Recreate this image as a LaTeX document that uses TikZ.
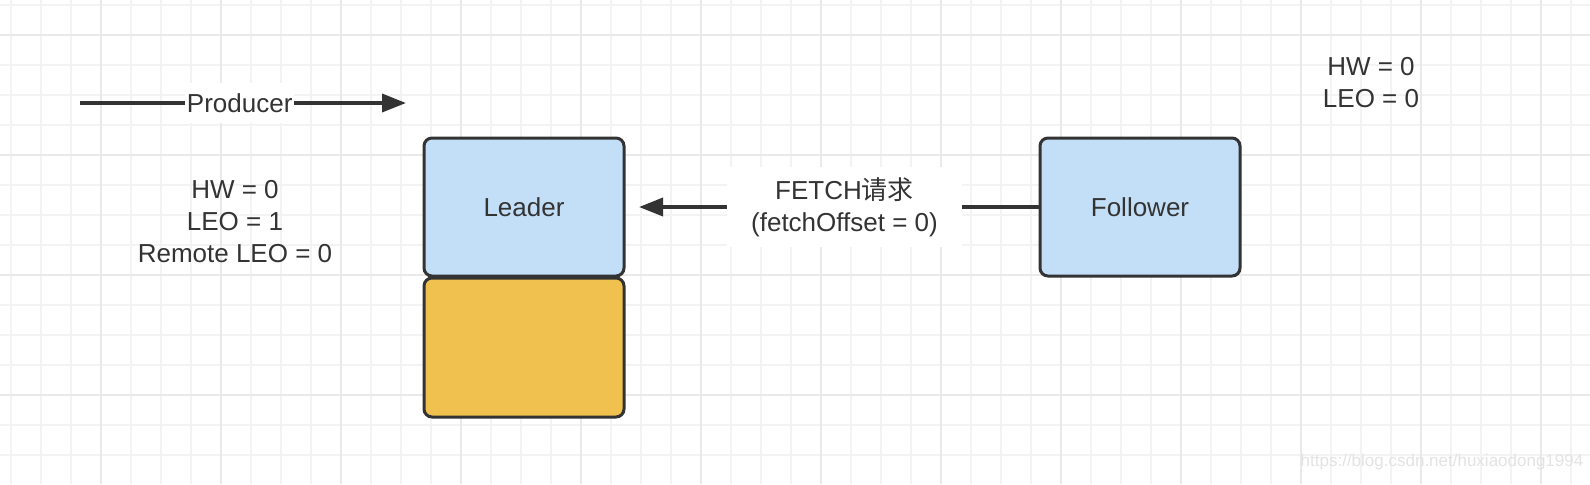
\documentclass[tikz,border=0pt]{standalone}
\usepackage{fontspec}
\setmainfont{Liberation Sans}
\newfontfamily\cjk{Noto Sans CJK SC}
\usepackage{tikz}
\usetikzlibrary{arrows.meta}
\usepackage{xcolor}
\definecolor{ink}{HTML}{333333}
\definecolor{boxblue}{HTML}{C3DEF7}
\definecolor{logyellow}{HTML}{F0C14F}
\definecolor{gridminor}{HTML}{F3F3F3}
\definecolor{gridmajor}{HTML}{E9E9E9}
\newcommand{\lblfont}{\fontsize{13}{16}\selectfont}

\begin{document}
\begin{tikzpicture}[x=0.5pt, y=0.5pt,
  box/.style={draw=ink, line width=1.5pt, rounded corners=4pt, text=ink,
              minimum width=100pt, minimum height=69pt, inner sep=0pt,
              outer sep=0pt, font=\lblfont},
  replica/.style={box, fill=boxblue},
  logpart/.style={box, fill=logyellow},
  info/.style={align=center, text=ink, font=\lblfont},
  tag/.style={fill=white, text=ink, font=\lblfont, align=center,
              inner xsep=12pt, inner ysep=5pt},
  flow/.style={-{Triangle[length=12pt, width=9pt]}, draw=ink, line width=1.8pt},
]
  \useasboundingbox (0,0) rectangle (1590,-484);
  \fill[white] (0,0) rectangle (1590,-484);

  % grid paper
  \foreach \gx in {11,41,...,1590}
    \draw[gridminor, line width=0.8pt] (\gx,0) -- (\gx,-484);
  \foreach \gy in {5,35,...,484}
    \draw[gridminor, line width=0.8pt] (0,-\gy) -- (1590,-\gy);
  \foreach \gx in {101,221,...,1590}
    \draw[gridmajor, line width=0.9pt] (\gx,0) -- (\gx,-484);
  \foreach \gy in {35,155,...,484}
    \draw[gridmajor, line width=0.9pt] (0,-\gy) -- (1590,-\gy);

  \node[replica] (leader)   at (524,-207)    {Leader};
  \node[logpart, minimum height=69.5pt] (leaderlog) at (524,-347.5) {};
  \node[replica] (follower) at (1140,-207)   {Follower};

  \node[info] (leaderstate)   at (235,-222) {HW = 0\\LEO = 1\\Remote LEO = 0};
  \node[info] (followerstate) at (1371,-83) {HW = 0\\LEO = 0};

  \coordinate (prodstart) at (80,-103);
  \coordinate (prodend)   at (406,-103);
  \draw[flow] (prodstart) -- node[tag, pos=0.49, inner xsep=1pt] {Producer} (prodend);

  \draw[flow, shorten >=7.5pt] (follower.west) --
    node[tag, pos=0.47] {FETCH{\cjk 请求}\\(fetchOffset = 0)} (leader.east);

  \node[text=gray!22, font=\fontsize{8.5}{10}\selectfont] (mark) at (1442,-462)
    {https://blog.csdn.net/huxiaodong1994};
\end{tikzpicture}
\end{document}
